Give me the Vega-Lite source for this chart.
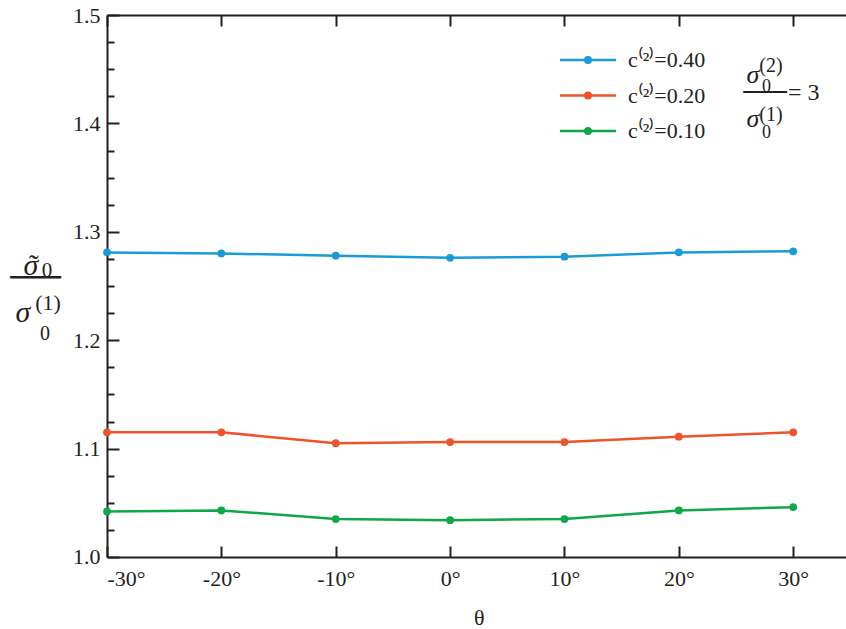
{
  "$schema": "https://vega.github.io/schema/vega-lite/v6.json",
  "width": 743.4,
  "height": 542,
  "autosize": {"type": "none"},
  "padding": {"left": 107, "top": 15, "right": 0, "bottom": 72},
  "background": "white",
  "config": {"view": {"stroke": null}, "font": "Liberation Serif"},
  "datasets": {
    "curves": [
      {"series": "c⁽²⁾=0.40", "theta": -30, "ratio": 1.281},
      {"series": "c⁽²⁾=0.40", "theta": -20, "ratio": 1.280},
      {"series": "c⁽²⁾=0.40", "theta": -10, "ratio": 1.278},
      {"series": "c⁽²⁾=0.40", "theta": 0, "ratio": 1.276},
      {"series": "c⁽²⁾=0.40", "theta": 10, "ratio": 1.277},
      {"series": "c⁽²⁾=0.40", "theta": 20, "ratio": 1.281},
      {"series": "c⁽²⁾=0.40", "theta": 30, "ratio": 1.282},
      {"series": "c⁽²⁾=0.20", "theta": -30, "ratio": 1.115},
      {"series": "c⁽²⁾=0.20", "theta": -20, "ratio": 1.115},
      {"series": "c⁽²⁾=0.20", "theta": -10, "ratio": 1.105},
      {"series": "c⁽²⁾=0.20", "theta": 0, "ratio": 1.106},
      {"series": "c⁽²⁾=0.20", "theta": 10, "ratio": 1.106},
      {"series": "c⁽²⁾=0.20", "theta": 20, "ratio": 1.111},
      {"series": "c⁽²⁾=0.20", "theta": 30, "ratio": 1.115},
      {"series": "c⁽²⁾=0.10", "theta": -30, "ratio": 1.042},
      {"series": "c⁽²⁾=0.10", "theta": -20, "ratio": 1.043},
      {"series": "c⁽²⁾=0.10", "theta": -10, "ratio": 1.035},
      {"series": "c⁽²⁾=0.10", "theta": 0, "ratio": 1.034},
      {"series": "c⁽²⁾=0.10", "theta": 10, "ratio": 1.035},
      {"series": "c⁽²⁾=0.10", "theta": 20, "ratio": 1.043},
      {"series": "c⁽²⁾=0.10", "theta": 30, "ratio": 1.046}
    ],
    "blank": [{}]
  },
  "layer": [
    {
      "data": {"name": "curves"},
      "mark": {"type": "line", "strokeWidth": 2.5, "point": {"filled": true, "size": 60, "opacity": 1}},
      "encoding": {
        "x": {
          "field": "theta", "type": "quantitative",
          "scale": {"domain": [-30, 35], "nice": false, "zero": false},
          "axis": {
            "orient": "bottom",
            "values": [-30, -20, -10, 0, 10, 20, 30],
            "labelExpr": "datum.value + '°'",
            "tickSize": -11, "tickWidth": 2, "tickColor": "#231f20",
            "domainColor": "#231f20", "domainWidth": 2,
            "labelFont": "Liberation Serif", "labelFontSize": 22, "labelColor": "#231f20",
            "labelPadding": 23,
            "grid": false,
            "title": "θ", "titleFont": "Liberation Serif", "titleFontSize": 22,
            "titleFontWeight": "normal", "titleColor": "#231f20", "titlePadding": 18
          }
        },
        "y": {
          "field": "ratio", "type": "quantitative",
          "scale": {"domain": [1.0, 1.5], "nice": false, "zero": false},
          "axis": {
            "orient": "left",
            "values": [1.0, 1.025, 1.05, 1.075, 1.1, 1.125, 1.15, 1.175, 1.2, 1.225, 1.25, 1.275, 1.3, 1.325, 1.35, 1.375, 1.4, 1.425, 1.45, 1.475, 1.5],
            "tickSize": {"condition": {"test": "abs(datum.value*10 - round(datum.value*10)) < 0.01", "value": -12}, "value": -7},
            "labelExpr": "abs(datum.value*10 - round(datum.value*10)) < 0.01 ? format(datum.value, '.1f') : ''",
            "tickWidth": 2, "tickColor": "#231f20",
            "domainColor": "#231f20", "domainWidth": 2,
            "labelFont": "Liberation Serif", "labelFontSize": 22, "labelColor": "#231f20",
            "labelPadding": 19,
            "grid": false,
            "title": null
          }
        },
        "color": {
          "field": "series", "type": "nominal",
          "scale": {"domain": ["c⁽²⁾=0.40", "c⁽²⁾=0.20", "c⁽²⁾=0.10"], "range": ["#1a9bd7", "#f0532b", "#10a64a"]},
          "legend": {
            "orient": "none", "legendX": 469.5, "legendY": 33.5,
            "title": null, "padding": 0,
            "symbolType": "M-2.8,0H2.8M0.275,0A0.275,0.275 0 1,1 -0.275,0A0.275,0.275 0 1,1 0.275,0Z",
            "symbolSize": 400, "symbolStrokeWidth": 2.5,
            "labelFont": "Liberation Serif", "labelFontSize": 22, "labelColor": "#231f20",
            "labelOffset": 28.5, "rowPadding": 12.5,
            "encode": {"symbols": {"update": {"fill": {"scale": "color", "field": "value"}}}}
          }
        }
      }
    },
    {
      "data": {"name": "curves"},
      "mark": {"type": "point", "opacity": 0},
      "encoding": {
        "x": {
          "field": "theta", "type": "quantitative",
          "axis": {
            "orient": "top", "values": [-30, -20, -10, 0, 10, 20, 30], "labels": false,
            "tickSize": -11, "tickWidth": 2, "tickColor": "#231f20",
            "domainColor": "#231f20", "domainWidth": 2, "grid": false, "title": null
          }
        },
        "y": {
          "field": "ratio", "type": "quantitative",
          "axis": {
            "orient": "right", "labels": false, "ticks": false, "domain": false,
            "grid": false, "title": null
          }
        }
      }
    },
    {
      "data": {"name": "blank"},
      "mark": {"type": "text", "text": "σ", "font": "Liberation Serif", "fontStyle": "italic", "fontSize": 30, "color": "#231f20", "align": "center", "baseline": "alphabetic"},
      "encoding": {"x": {"datum": -36.645, "axis": null}, "y": {"datum": 1.2601, "axis": null}}
    },
    {
      "data": {"name": "blank"},
      "mark": {"type": "text", "text": "˜", "font": "Liberation Serif", "fontSize": 30, "color": "#231f20", "align": "center", "baseline": "alphabetic"},
      "encoding": {"x": {"datum": -36.4, "axis": null}, "y": {"datum": 1.2601, "axis": null}}
    },
    {
      "data": {"name": "blank"},
      "mark": {"type": "text", "text": "0", "font": "Liberation Serif", "fontSize": 21, "color": "#231f20", "align": "center", "baseline": "alphabetic"},
      "encoding": {"x": {"datum": -35.246, "axis": null}, "y": {"datum": 1.2583, "axis": null}}
    },
    {
      "data": {"name": "blank"},
      "mark": {"type": "text", "text": "───", "font": "DejaVu Sans", "fontSize": 28, "color": "#231f20", "align": "center", "baseline": "middle"},
      "encoding": {"x": {"datum": -36.252, "axis": null}, "y": {"datum": 1.2565, "axis": null}}
    },
    {
      "data": {"name": "blank"},
      "mark": {"type": "text", "text": "σ", "font": "Liberation Serif", "fontStyle": "italic", "fontSize": 30, "color": "#231f20", "align": "center", "baseline": "alphabetic"},
      "encoding": {"x": {"datum": -37.345, "axis": null}, "y": {"datum": 1.2168, "axis": null}}
    },
    {
      "data": {"name": "blank"},
      "mark": {"type": "text", "text": "(1)", "font": "Liberation Serif", "fontSize": 22, "color": "#231f20", "align": "center", "baseline": "alphabetic"},
      "encoding": {"x": {"datum": -35.159, "axis": null}, "y": {"datum": 1.2279, "axis": null}}
    },
    {
      "data": {"name": "blank"},
      "mark": {"type": "text", "text": "0", "font": "Liberation Serif", "fontSize": 20, "color": "#231f20", "align": "center", "baseline": "alphabetic"},
      "encoding": {"x": {"datum": -35.421, "axis": null}, "y": {"datum": 1.2002, "axis": null}}
    },
    {
      "data": {"name": "blank"},
      "mark": {"type": "text", "text": "σ", "font": "Liberation Serif", "fontStyle": "italic", "fontSize": 26, "color": "#231f20", "align": "center", "baseline": "alphabetic"},
      "encoding": {"x": {"datum": 26.484, "axis": null}, "y": {"datum": 1.4373, "axis": null}}
    },
    {
      "data": {"name": "blank"},
      "mark": {"type": "text", "text": "(2)", "font": "Liberation Serif", "fontSize": 20, "color": "#231f20", "align": "center", "baseline": "alphabetic"},
      "encoding": {"x": {"datum": 28.057, "axis": null}, "y": {"datum": 1.4474, "axis": null}}
    },
    {
      "data": {"name": "blank"},
      "mark": {"type": "text", "text": "0", "font": "Liberation Serif", "fontSize": 18, "color": "#231f20", "align": "center", "baseline": "alphabetic"},
      "encoding": {"x": {"datum": 27.664, "axis": null}, "y": {"datum": 1.429, "axis": null}}
    },
    {
      "data": {"name": "blank"},
      "mark": {"type": "text", "text": "───", "font": "DejaVu Sans", "fontSize": 24, "color": "#231f20", "align": "center", "baseline": "middle"},
      "encoding": {"x": {"datum": 27.53, "axis": null}, "y": {"datum": 1.428, "axis": null}}
    },
    {
      "data": {"name": "blank"},
      "mark": {"type": "text", "text": "σ", "font": "Liberation Serif", "fontStyle": "italic", "fontSize": 26, "color": "#231f20", "align": "center", "baseline": "alphabetic"},
      "encoding": {"x": {"datum": 26.484, "axis": null}, "y": {"datum": 1.3967, "axis": null}}
    },
    {
      "data": {"name": "blank"},
      "mark": {"type": "text", "text": "(1)", "font": "Liberation Serif", "fontSize": 20, "color": "#231f20", "align": "center", "baseline": "alphabetic"},
      "encoding": {"x": {"datum": 28.057, "axis": null}, "y": {"datum": 1.4022, "axis": null}}
    },
    {
      "data": {"name": "blank"},
      "mark": {"type": "text", "text": "0", "font": "Liberation Serif", "fontSize": 18, "color": "#231f20", "align": "center", "baseline": "alphabetic"},
      "encoding": {"x": {"datum": 27.664, "axis": null}, "y": {"datum": 1.3865, "axis": null}}
    },
    {
      "data": {"name": "blank"},
      "mark": {"type": "text", "text": "= 3", "font": "Liberation Serif", "fontSize": 24, "color": "#231f20", "align": "left", "baseline": "alphabetic"},
      "encoding": {"x": {"datum": 29.54, "axis": null}, "y": {"datum": 1.4216, "axis": null}}
    }
  ]
}
